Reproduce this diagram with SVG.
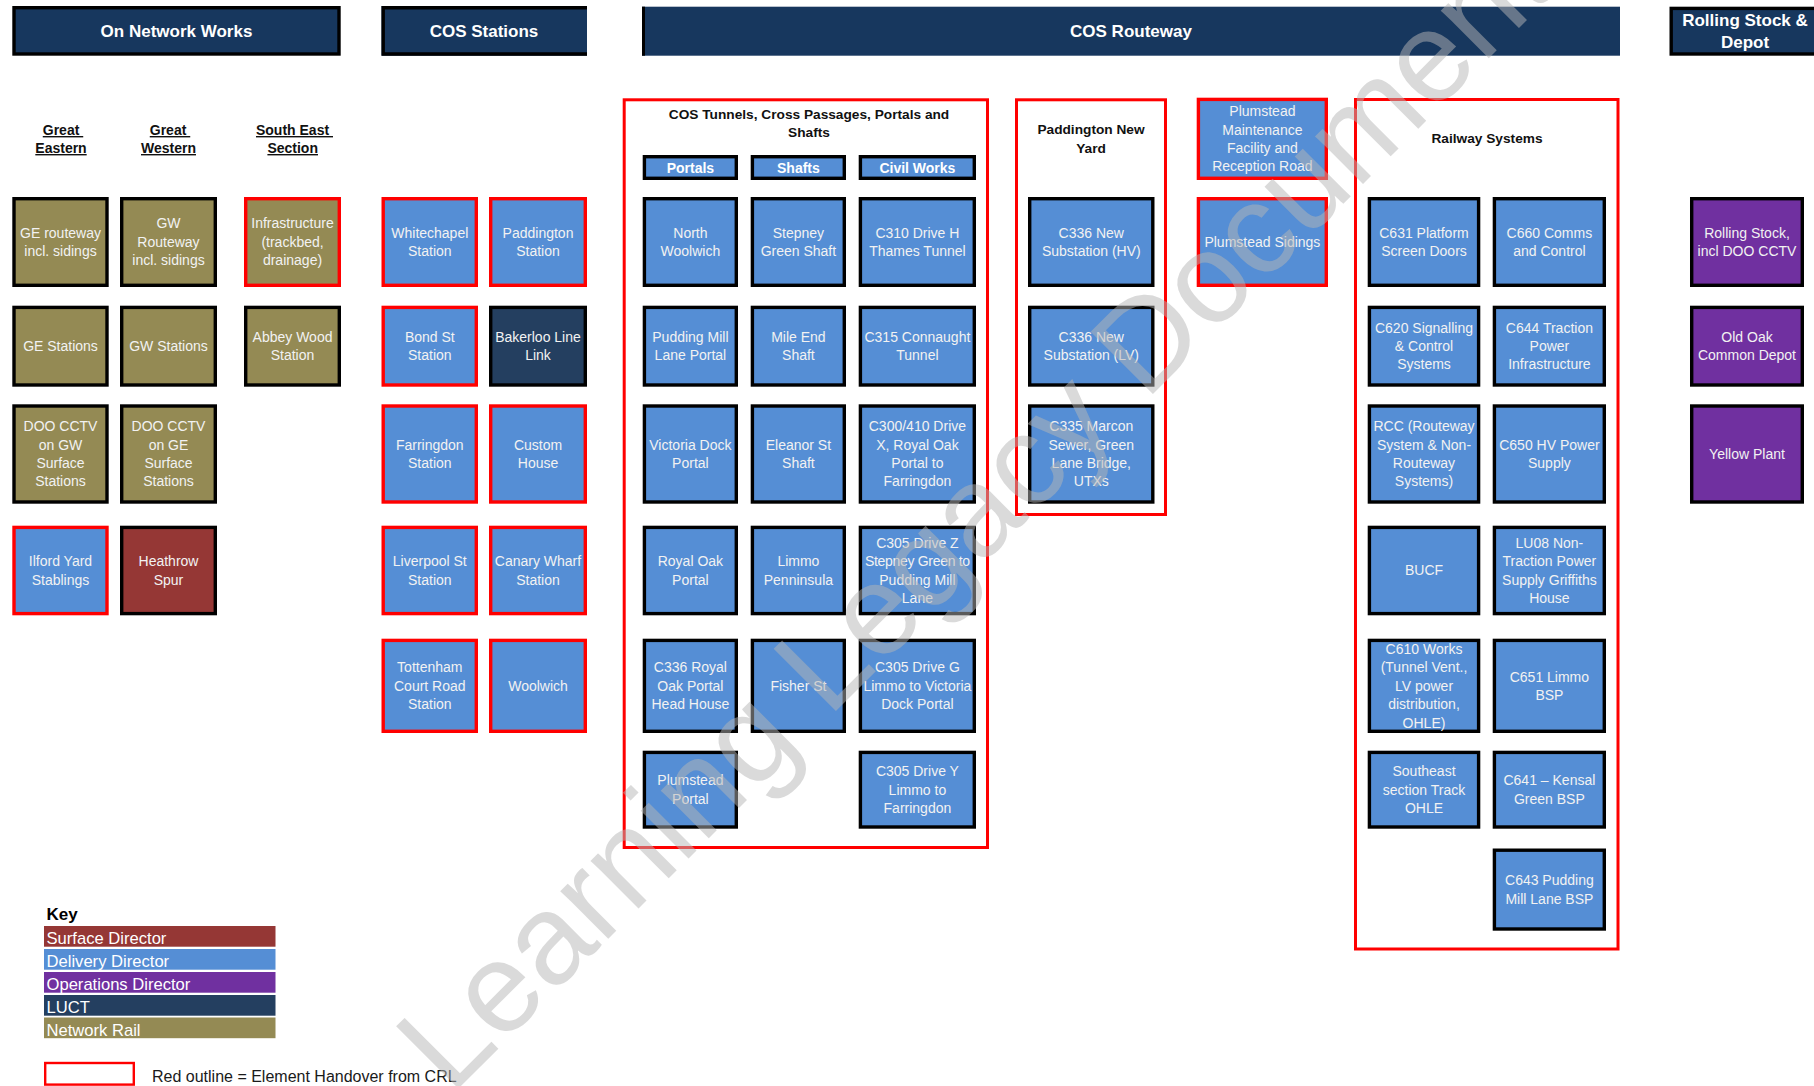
<svg xmlns="http://www.w3.org/2000/svg" width="1814" height="1086" viewBox="0 0 1814 1086">
  <style>
    .hdr { fill: #17375E; }
    .hdr-t { font-family: "Liberation Sans", Arial, sans-serif; font-weight: bold; font-size: 17px; fill: #FFFFFF; text-anchor: middle; }
    .grp { fill: #FFFFFF; stroke: #FF0000; stroke-width: 3; }
    .grp-t { font-family: "Liberation Sans", Arial, sans-serif; font-weight: bold; font-size: 13.7px; fill: #111111; text-anchor: middle; }
    .sub-t { font-family: "Liberation Sans", Arial, sans-serif; font-weight: bold; font-size: 14px; fill: #111111; text-anchor: middle; text-decoration: underline; }
    .box { stroke-width: 3.4; }
    .k { stroke: #000000; }
    .r { stroke: #FF0000; }
    .blue { fill: #558ED5; }
    .olive { fill: #948A54; }
    .maroon { fill: #953735; }
    .purple { fill: #7030A0; }
    .navy { fill: #243F60; }
    .t { font-family: "Liberation Sans", Arial, sans-serif; font-size: 14px; fill: #F2F2F2; text-anchor: middle; }
    .tb { font-family: "Liberation Sans", Arial, sans-serif; font-weight: bold; font-size: 14px; fill: #FFFFFF; text-anchor: middle; }
    .key-t { font-family: "Liberation Sans", Arial, sans-serif; font-size: 16.6px; fill: #FFFFFF; }
    .wm { font-family: "Liberation Sans", Arial, sans-serif; font-size: 128px; fill: #B6B6B6; opacity: 0.5; }
  </style>

  <rect width="1814" height="1086" fill="#FFFFFF"/>

  <!-- Section headers -->
  <g id="hdr-on-network-works">
    <rect class="hdr" x="14" y="7.7" width="325" height="46.3" stroke="#000" stroke-width="3.4"/>
    <text class="hdr-t" x="176.5" y="36.5">On Network Works</text>
  </g>
  <g id="hdr-cos-stations">
    <rect class="hdr" x="381.5" y="6" width="205.5" height="49.7"/>
    <polyline points="587,7.7 383.2,7.7 383.2,54 587,54" fill="none" stroke="#000" stroke-width="3.4"/>
    <text class="hdr-t" x="484" y="36.5">COS Stations</text>
  </g>
  <g id="hdr-cos-routeway">
    <rect class="hdr" x="642" y="6.7" width="978" height="49"/>
    <line x1="643.5" y1="6.7" x2="643.5" y2="55.7" stroke="#000" stroke-width="3"/>
    <text class="hdr-t" x="1131" y="36.5">COS Routeway</text>
  </g>
  <g id="hdr-rolling-stock">
    <rect class="hdr" x="1671.2" y="8.4" width="150" height="45.6" stroke="#000" stroke-width="3.4"/>
    <text class="hdr-t" x="1745" y="25.5">Rolling Stock &amp;</text>
    <text class="hdr-t" x="1745" y="48">Depot</text>
  </g>

  <!-- Route sub-headings -->
  <g id="sub-great-eastern">
    <text class="sub-t" x="63" y="135">Great&#160;</text>
    <text class="sub-t" x="61" y="153">Eastern</text>
  </g>
  <g id="sub-great-western">
    <text class="sub-t" x="170" y="135">Great&#160;</text>
    <text class="sub-t" x="168.5" y="153">Western</text>
  </g>
  <g id="sub-south-east">
    <text class="sub-t" x="294.5" y="135">South East&#160;</text>
    <text class="sub-t" x="292.7" y="153">Section</text>
  </g>

  <!-- Red handover containers -->
  <g id="grp-cos-tunnels">
    <rect class="grp" x="624.2" y="99.8" width="363.3" height="747.7"/>
    <text class="grp-t" x="809" y="119.3">COS Tunnels, Cross Passages, Portals and</text>
    <text class="grp-t" x="809" y="137">Shafts</text>
  </g>
  <g id="grp-paddington-new-yard">
    <rect class="grp" x="1016.5" y="99.8" width="149" height="414.7"/>
    <text class="grp-t" x="1091" y="134">Paddington New</text>
    <text class="grp-t" x="1091" y="152.5">Yard</text>
  </g>
  <g id="grp-railway-systems">
    <rect class="grp" x="1355.5" y="99.5" width="262.5" height="849.5"/>
    <text class="grp-t" x="1487" y="143.3">Railway Systems</text>
  </g>

  <!-- On Network Works nodes -->
  <g id="ge-routeway"><rect class="box olive k" x="14" y="198.7" width="93" height="86.6"/>
    <text class="t" y="237.65"><tspan x="60.5">GE routeway</tspan><tspan x="60.5" dy="18.4">incl. sidings</tspan></text></g>
  <g id="gw-routeway"><rect class="box olive k" x="121.7" y="198.7" width="93.6" height="86.6"/>
    <text class="t" y="228.45"><tspan x="168.5">GW</tspan><tspan x="168.5" dy="18.4">Routeway</tspan><tspan x="168.5" dy="18.4">incl. sidings</tspan></text></g>
  <g id="se-infrastructure"><rect class="box olive r" x="245.7" y="198.7" width="93.6" height="86.6"/>
    <text class="t" y="228.45"><tspan x="292.5">Infrastructure</tspan><tspan x="292.5" dy="18.4">(trackbed,</tspan><tspan x="292.5" dy="18.4">drainage)</tspan></text></g>
  <g id="ge-stations"><rect class="box olive k" x="14" y="307.4" width="93" height="77.6"/>
    <text class="t" x="60.5" y="351.05">GE Stations</text></g>
  <g id="gw-stations"><rect class="box olive k" x="121.7" y="307.4" width="93.6" height="77.6"/>
    <text class="t" x="168.5" y="351.05">GW Stations</text></g>
  <g id="abbey-wood"><rect class="box olive k" x="245.7" y="307.4" width="93.6" height="77.6"/>
    <text class="t" y="341.85"><tspan x="292.5">Abbey Wood</tspan><tspan x="292.5" dy="18.4">Station</tspan></text></g>
  <g id="doo-cctv-gw"><rect class="box olive k" x="14" y="406" width="93" height="96"/>
    <text class="t" y="431.25"><tspan x="60.5">DOO CCTV</tspan><tspan x="60.5" dy="18.4">on GW</tspan><tspan x="60.5" dy="18.4">Surface</tspan><tspan x="60.5" dy="18.4">Stations</tspan></text></g>
  <g id="doo-cctv-ge"><rect class="box olive k" x="121.7" y="406" width="93.6" height="96"/>
    <text class="t" y="431.25"><tspan x="168.5">DOO CCTV</tspan><tspan x="168.5" dy="18.4">on GE</tspan><tspan x="168.5" dy="18.4">Surface</tspan><tspan x="168.5" dy="18.4">Stations</tspan></text></g>
  <g id="ilford-yard"><rect class="box blue r" x="14" y="527.4" width="93" height="86.2"/>
    <text class="t" y="566.15"><tspan x="60.5">Ilford Yard</tspan><tspan x="60.5" dy="18.4">Stablings</tspan></text></g>
  <g id="heathrow-spur"><rect class="box maroon k" x="121.7" y="527.4" width="93.6" height="86.2"/>
    <text class="t" y="566.15"><tspan x="168.5">Heathrow</tspan><tspan x="168.5" dy="18.4">Spur</tspan></text></g>

  <!-- COS Stations nodes -->
  <g id="whitechapel"><rect class="box blue r" x="383.2" y="198.7" width="93.1" height="86.6"/>
    <text class="t" y="237.65"><tspan x="429.8">Whitechapel</tspan><tspan x="429.8" dy="18.4">Station</tspan></text></g>
  <g id="paddington"><rect class="box blue r" x="490.7" y="198.7" width="94.6" height="86.6"/>
    <text class="t" y="237.65"><tspan x="538">Paddington</tspan><tspan x="538" dy="18.4">Station</tspan></text></g>
  <g id="bond-st"><rect class="box blue r" x="383.2" y="307.4" width="93.1" height="77.6"/>
    <text class="t" y="341.85"><tspan x="429.8">Bond St</tspan><tspan x="429.8" dy="18.4">Station</tspan></text></g>
  <g id="bakerloo-link"><rect class="box navy k" x="490.7" y="307.4" width="94.6" height="77.6"/>
    <text class="t" y="341.85"><tspan x="538">Bakerloo Line</tspan><tspan x="538" dy="18.4">Link</tspan></text></g>
  <g id="farringdon"><rect class="box blue r" x="383.2" y="406" width="93.1" height="96"/>
    <text class="t" y="449.65"><tspan x="429.8">Farringdon</tspan><tspan x="429.8" dy="18.4">Station</tspan></text></g>
  <g id="custom-house"><rect class="box blue r" x="490.7" y="406" width="94.6" height="96"/>
    <text class="t" y="449.65"><tspan x="538">Custom</tspan><tspan x="538" dy="18.4">House</tspan></text></g>
  <g id="liverpool-st"><rect class="box blue r" x="383.2" y="527.4" width="93.1" height="86.2"/>
    <text class="t" y="566.15"><tspan x="429.8">Liverpool St</tspan><tspan x="429.8" dy="18.4">Station</tspan></text></g>
  <g id="canary-wharf"><rect class="box blue r" x="490.7" y="527.4" width="94.6" height="86.2"/>
    <text class="t" y="566.15"><tspan x="538">Canary Wharf</tspan><tspan x="538" dy="18.4">Station</tspan></text></g>
  <g id="tottenham-court-road"><rect class="box blue r" x="383.2" y="640.4" width="93.1" height="90.9"/>
    <text class="t" y="672.35"><tspan x="429.8">Tottenham</tspan><tspan x="429.8" dy="18.4">Court Road</tspan><tspan x="429.8" dy="18.4">Station</tspan></text></g>
  <g id="woolwich"><rect class="box blue r" x="490.7" y="640.4" width="94.6" height="90.9"/>
    <text class="t" x="538" y="690.75">Woolwich</text></g>

  <!-- COS Tunnels: column headings -->
  <g id="col-portals"><rect class="box blue k" x="644.4" y="156.7" width="91.9" height="21.6"/>
    <text class="tb" x="690.4" y="172.5">Portals</text></g>
  <g id="col-shafts"><rect class="box blue k" x="752.4" y="156.7" width="91.9" height="21.6"/>
    <text class="tb" x="798.4" y="172.5">Shafts</text></g>
  <g id="col-civil-works"><rect class="box blue k" x="860.4" y="156.7" width="113.9" height="21.6"/>
    <text class="tb" x="917.4" y="172.5">Civil Works</text></g>

  <!-- COS Tunnels: portals -->
  <g id="north-woolwich"><rect class="box blue k" x="644.4" y="198.7" width="91.9" height="86.6"/>
    <text class="t" y="237.65"><tspan x="690.4">North</tspan><tspan x="690.4" dy="18.4">Woolwich</tspan></text></g>
  <g id="pudding-mill-portal"><rect class="box blue k" x="644.4" y="307.4" width="91.9" height="77.6"/>
    <text class="t" y="341.85"><tspan x="690.4">Pudding Mill</tspan><tspan x="690.4" dy="18.4">Lane Portal</tspan></text></g>
  <g id="victoria-dock-portal"><rect class="box blue k" x="644.4" y="406" width="91.9" height="96"/>
    <text class="t" y="449.65"><tspan x="690.4">Victoria Dock</tspan><tspan x="690.4" dy="18.4">Portal</tspan></text></g>
  <g id="royal-oak-portal"><rect class="box blue k" x="644.4" y="527.4" width="91.9" height="86.2"/>
    <text class="t" y="566.15"><tspan x="690.4">Royal Oak</tspan><tspan x="690.4" dy="18.4">Portal</tspan></text></g>
  <g id="c336-head-house"><rect class="box blue k" x="644.4" y="640.4" width="91.9" height="90.9"/>
    <text class="t" y="672.35"><tspan x="690.4">C336 Royal</tspan><tspan x="690.4" dy="18.4">Oak Portal</tspan><tspan x="690.4" dy="18.4">Head House</tspan></text></g>
  <g id="plumstead-portal"><rect class="box blue k" x="644.4" y="752.4" width="91.9" height="74.6"/>
    <text class="t" y="785.35"><tspan x="690.4">Plumstead</tspan><tspan x="690.4" dy="18.4">Portal</tspan></text></g>

  <!-- COS Tunnels: shafts -->
  <g id="stepney-green-shaft"><rect class="box blue k" x="752.4" y="198.7" width="91.9" height="86.6"/>
    <text class="t" y="237.65"><tspan x="798.4">Stepney</tspan><tspan x="798.4" dy="18.4">Green Shaft</tspan></text></g>
  <g id="mile-end-shaft"><rect class="box blue k" x="752.4" y="307.4" width="91.9" height="77.6"/>
    <text class="t" y="341.85"><tspan x="798.4">Mile End</tspan><tspan x="798.4" dy="18.4">Shaft</tspan></text></g>
  <g id="eleanor-st-shaft"><rect class="box blue k" x="752.4" y="406" width="91.9" height="96"/>
    <text class="t" y="449.65"><tspan x="798.4">Eleanor St</tspan><tspan x="798.4" dy="18.4">Shaft</tspan></text></g>
  <g id="limmo-peninsula"><rect class="box blue k" x="752.4" y="527.4" width="91.9" height="86.2"/>
    <text class="t" y="566.15"><tspan x="798.4">Limmo</tspan><tspan x="798.4" dy="18.4">Penninsula</tspan></text></g>
  <g id="fisher-st"><rect class="box blue k" x="752.4" y="640.4" width="91.9" height="90.9"/>
    <text class="t" x="798.4" y="690.75">Fisher St</text></g>

  <!-- COS Tunnels: civil works -->
  <g id="c310-drive-h"><rect class="box blue k" x="860.4" y="198.7" width="113.9" height="86.6"/>
    <text class="t" y="237.65"><tspan x="917.4">C310 Drive H</tspan><tspan x="917.4" dy="18.4">Thames Tunnel</tspan></text></g>
  <g id="c315-connaught"><rect class="box blue k" x="860.4" y="307.4" width="113.9" height="77.6"/>
    <text class="t" y="341.85"><tspan x="917.4">C315 Connaught</tspan><tspan x="917.4" dy="18.4">Tunnel</tspan></text></g>
  <g id="c300-410-drive-x"><rect class="box blue k" x="860.4" y="406" width="113.9" height="96"/>
    <text class="t" y="431.25"><tspan x="917.4">C300/410 Drive</tspan><tspan x="917.4" dy="18.4">X, Royal Oak</tspan><tspan x="917.4" dy="18.4">Portal to</tspan><tspan x="917.4" dy="18.4">Farringdon</tspan></text></g>
  <g id="c305-drive-z"><rect class="box blue k" x="860.4" y="527.4" width="113.9" height="86.2"/>
    <text class="t" y="547.75"><tspan x="917.4">C305 Drive Z</tspan><tspan x="917.4" dy="18.4" letter-spacing="-0.3">Stepney Green to</tspan><tspan x="917.4" dy="18.4">Pudding Mill</tspan><tspan x="917.4" dy="18.4">Lane</tspan></text></g>
  <g id="c305-drive-g"><rect class="box blue k" x="860.4" y="640.4" width="113.9" height="90.9"/>
    <text class="t" y="672.35"><tspan x="917.4">C305 Drive G</tspan><tspan x="917.4" dy="18.4">Limmo to Victoria</tspan><tspan x="917.4" dy="18.4">Dock Portal</tspan></text></g>
  <g id="c305-drive-y"><rect class="box blue k" x="860.4" y="752.4" width="113.9" height="74.6"/>
    <text class="t" y="776.15"><tspan x="917.4">C305 Drive Y</tspan><tspan x="917.4" dy="18.4">Limmo to</tspan><tspan x="917.4" dy="18.4">Farringdon</tspan></text></g>

  <!-- Paddington New Yard -->
  <g id="c336-substation-hv"><rect class="box blue k" x="1029.7" y="198.7" width="123.1" height="86.6"/>
    <text class="t" y="237.65"><tspan x="1091.3">C336 New</tspan><tspan x="1091.3" dy="18.4">Substation (HV)</tspan></text></g>
  <g id="c336-substation-lv"><rect class="box blue k" x="1029.7" y="307.4" width="123.1" height="77.6"/>
    <text class="t" y="341.85"><tspan x="1091.3">C336 New</tspan><tspan x="1091.3" dy="18.4">Substation (LV)</tspan></text></g>
  <g id="c335-marcon-sewer"><rect class="box blue k" x="1029.7" y="406" width="123.1" height="96"/>
    <text class="t" y="431.25"><tspan x="1091.3">C335 Marcon</tspan><tspan x="1091.3" dy="18.4">Sewer, Green</tspan><tspan x="1091.3" dy="18.4">Lane Bridge,</tspan><tspan x="1091.3" dy="18.4">UTXs</tspan></text></g>

  <!-- Plumstead -->
  <g id="plumstead-maintenance"><rect class="box blue r" x="1198.4" y="99.4" width="127.9" height="78.9"/>
    <text class="t" y="116.15"><tspan x="1262.4">Plumstead</tspan><tspan x="1262.4" dy="18.4">Maintenance</tspan><tspan x="1262.4" dy="18.4">Facility and</tspan><tspan x="1262.4" dy="18.4">Reception Road</tspan></text></g>
  <g id="plumstead-sidings"><rect class="box blue r" x="1198.4" y="198.7" width="127.9" height="86.6"/>
    <text class="t" x="1262.4" y="246.85">Plumstead Sidings</text></g>

  <!-- Railway Systems -->
  <g id="c631-psd"><rect class="box blue k" x="1369.4" y="198.7" width="109.2" height="86.6"/>
    <text class="t" y="237.65"><tspan x="1424">C631 Platform</tspan><tspan x="1424" dy="18.4">Screen Doors</tspan></text></g>
  <g id="c660-comms"><rect class="box blue k" x="1494.4" y="198.7" width="109.9" height="86.6"/>
    <text class="t" y="237.65"><tspan x="1549.4">C660 Comms</tspan><tspan x="1549.4" dy="18.4">and Control</tspan></text></g>
  <g id="c620-signalling"><rect class="box blue k" x="1369.4" y="307.4" width="109.2" height="77.6"/>
    <text class="t" y="332.65"><tspan x="1424">C620 Signalling</tspan><tspan x="1424" dy="18.4">&amp; Control</tspan><tspan x="1424" dy="18.4">Systems</tspan></text></g>
  <g id="c644-traction"><rect class="box blue k" x="1494.4" y="307.4" width="109.9" height="77.6"/>
    <text class="t" y="332.65"><tspan x="1549.4">C644 Traction</tspan><tspan x="1549.4" dy="18.4">Power</tspan><tspan x="1549.4" dy="18.4">Infrastructure</tspan></text></g>
  <g id="rcc"><rect class="box blue k" x="1369.4" y="406" width="109.2" height="96"/>
    <text class="t" y="431.25"><tspan x="1424">RCC (Routeway</tspan><tspan x="1424" dy="18.4">System &amp; Non-</tspan><tspan x="1424" dy="18.4">Routeway</tspan><tspan x="1424" dy="18.4">Systems)</tspan></text></g>
  <g id="c650-hv-power"><rect class="box blue k" x="1494.4" y="406" width="109.9" height="96"/>
    <text class="t" y="449.65"><tspan x="1549.4">C650 HV Power</tspan><tspan x="1549.4" dy="18.4">Supply</tspan></text></g>
  <g id="bucf"><rect class="box blue k" x="1369.4" y="527.4" width="109.2" height="86.2"/>
    <text class="t" x="1424" y="575.35">BUCF</text></g>
  <g id="lu08-griffiths-house"><rect class="box blue k" x="1494.4" y="527.4" width="109.9" height="86.2"/>
    <text class="t" y="547.75"><tspan x="1549.4">LU08 Non-</tspan><tspan x="1549.4" dy="18.4">Traction Power</tspan><tspan x="1549.4" dy="18.4">Supply Griffiths</tspan><tspan x="1549.4" dy="18.4">House</tspan></text></g>
  <g id="c610-works"><rect class="box blue k" x="1369.4" y="640.4" width="109.2" height="90.9"/>
    <text class="t" y="653.95"><tspan x="1424">C610 Works</tspan><tspan x="1424" dy="18.4">(Tunnel Vent.,</tspan><tspan x="1424" dy="18.4">LV power</tspan><tspan x="1424" dy="18.4">distribution,</tspan><tspan x="1424" dy="18.4">OHLE)</tspan></text></g>
  <g id="c651-limmo-bsp"><rect class="box blue k" x="1494.4" y="640.4" width="109.9" height="90.9"/>
    <text class="t" y="681.55"><tspan x="1549.4">C651 Limmo</tspan><tspan x="1549.4" dy="18.4">BSP</tspan></text></g>
  <g id="southeast-ohle"><rect class="box blue k" x="1369.4" y="752.4" width="109.2" height="74.6"/>
    <text class="t" y="776.15"><tspan x="1424">Southeast</tspan><tspan x="1424" dy="18.4">section Track</tspan><tspan x="1424" dy="18.4">OHLE</tspan></text></g>
  <g id="c641-kensal-green"><rect class="box blue k" x="1494.4" y="752.4" width="109.9" height="74.6"/>
    <text class="t" y="785.35"><tspan x="1549.4">C641 – Kensal</tspan><tspan x="1549.4" dy="18.4">Green BSP</tspan></text></g>
  <g id="c643-pudding-mill-bsp"><rect class="box blue k" x="1494.4" y="850.2" width="109.9" height="78.8"/>
    <text class="t" y="885.25"><tspan x="1549.4">C643 Pudding</tspan><tspan x="1549.4" dy="18.4">Mill Lane BSP</tspan></text></g>

  <!-- Rolling Stock & Depot -->
  <g id="rolling-stock"><rect class="box purple k" x="1691.7" y="198.7" width="110.6" height="86.6"/>
    <text class="t" y="237.65"><tspan x="1747">Rolling Stock,</tspan><tspan x="1747" dy="18.4">incl DOO CCTV</tspan></text></g>
  <g id="old-oak-common"><rect class="box purple k" x="1691.7" y="307.4" width="110.6" height="77.6"/>
    <text class="t" y="341.85"><tspan x="1747">Old Oak</tspan><tspan x="1747" dy="18.4">Common Depot</tspan></text></g>
  <g id="yellow-plant"><rect class="box purple k" x="1691.7" y="406" width="110.6" height="96"/>
    <text class="t" x="1747" y="458.85">Yellow Plant</text></g>

  <g id="connectors"/>

  <!-- Key -->
  <g id="key">
    <text x="46.5" y="920" font-family="Liberation Sans, Arial, sans-serif" font-weight="bold" font-size="17" fill="#000">Key</text>
    <rect x="44" y="926" width="231.5" height="20.7" fill="#953735"/>
    <text class="key-t" x="46.5" y="944">Surface Director</text>
    <rect x="44" y="949" width="231.5" height="20.7" fill="#558ED5"/>
    <text class="key-t" x="46.5" y="967">Delivery Director</text>
    <rect x="44" y="972" width="231.5" height="20.7" fill="#7030A0"/>
    <text class="key-t" x="46.5" y="990">Operations Director</text>
    <rect x="44" y="995" width="231.5" height="20.7" fill="#243F60"/>
    <text class="key-t" x="46.5" y="1013">LUCT</text>
    <rect x="44" y="1017.5" width="231.5" height="20.7" fill="#948A54"/>
    <text class="key-t" x="46.5" y="1035.5">Network Rail</text>
    <rect x="45.2" y="1063" width="88.6" height="21.6" fill="none" stroke="#FF0000" stroke-width="2.4"/>
    <text x="152" y="1081.5" font-family="Liberation Sans, Arial, sans-serif" font-size="16" fill="#1A1A1A">Red outline = Element Handover from CRL</text>
  </g>

  <!-- Watermark -->
  <text class="wm" transform="translate(451 1096) rotate(-45)">Learning Legacy Document</text>
</svg>
